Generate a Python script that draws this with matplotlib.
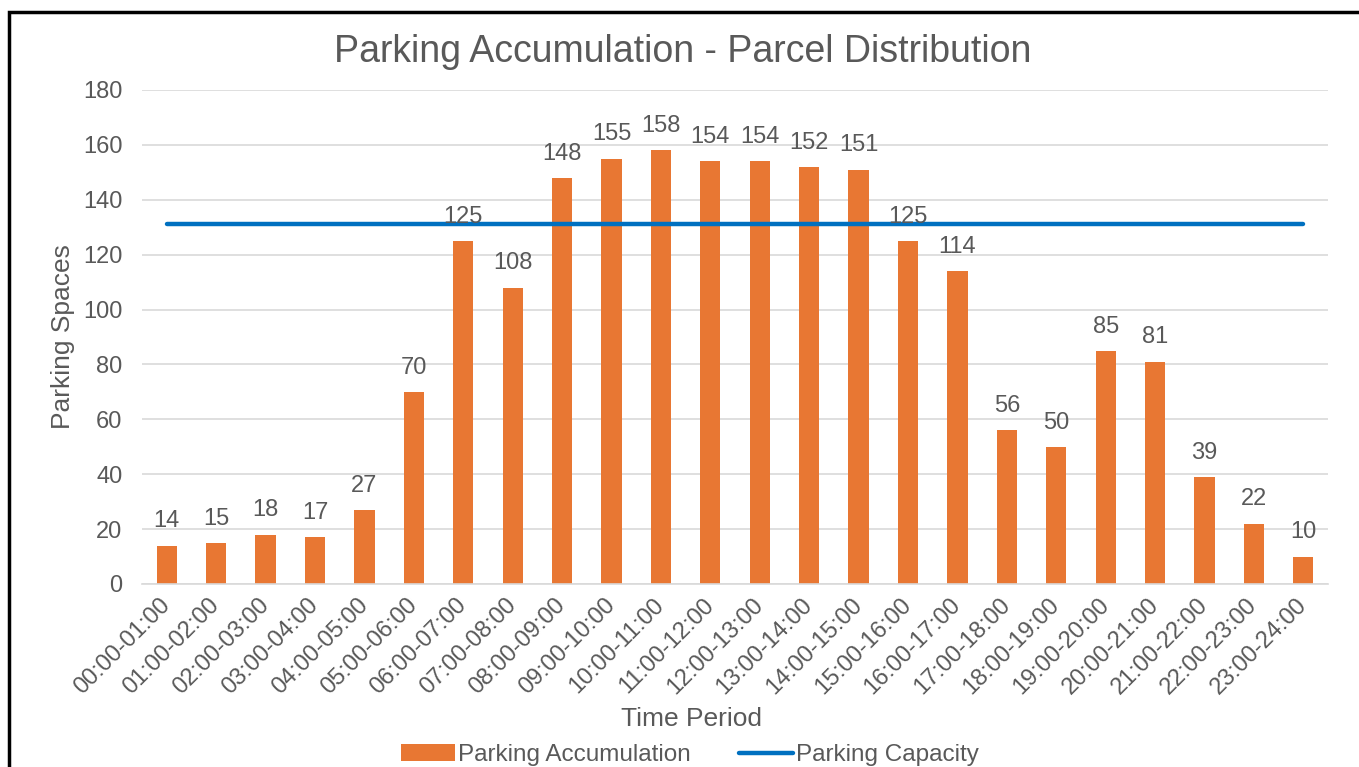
import matplotlib
matplotlib.use('Agg')
import matplotlib.pyplot as plt
from matplotlib.patches import Rectangle
import numpy as np

# data
periods = ['00:00-01:00', '01:00-02:00', '02:00-03:00', '03:00-04:00', '04:00-05:00',
           '05:00-06:00', '06:00-07:00', '07:00-08:00', '08:00-09:00', '09:00-10:00',
           '10:00-11:00', '11:00-12:00', '12:00-13:00', '13:00-14:00', '14:00-15:00',
           '15:00-16:00', '16:00-17:00', '17:00-18:00', '18:00-19:00', '19:00-20:00',
           '20:00-21:00', '21:00-22:00', '22:00-23:00', '23:00-24:00']
accumulation = [14, 15, 18, 17, 27, 70, 125, 108, 148, 155, 158, 154,
                154, 152, 151, 125, 114, 56, 50, 85, 81, 39, 22, 10]
capacity = 131

plt.rcParams['font.family'] = ['Liberation Sans', 'DejaVu Sans']
txt = '#595959'

fig = plt.figure(figsize=(13.59, 7.67), dpi=100)
ax = fig.add_axes([0.1045, 0.2386, 0.8727, 0.6441])

x = np.arange(len(periods))
bars = ax.bar(x, accumulation, width=0.41, color='#E87733', zorder=2)
line, = ax.plot([x[0], x[-1]], [capacity, capacity], color='#0070C0', lw=3.2,
                solid_capstyle='round', zorder=3)

for xi, v in zip(x, accumulation):
    ax.annotate(str(v), (xi, v), xytext=(0, 9.5), textcoords='offset points',
                ha='center', va='bottom', fontsize=17, color=txt)

ax.set_xlim(-0.5, len(periods) - 0.5)
ax.set_ylim(0, 180)
ax.set_yticks(range(0, 181, 20))
ax.yaxis.grid(True, color='#D9D9D9', lw=1.2, zorder=0)
ax.set_axisbelow(True)
for s in ['top', 'right', 'left']:
    ax.spines[s].set_visible(False)
ax.spines['bottom'].set_color('#D9D9D9')
ax.spines['bottom'].set_linewidth(1.2)
ax.tick_params(axis='both', length=0, labelsize=17, labelcolor=txt)
ax.tick_params(axis='y', pad=14)
ax.set_xticks(x)
ax.set_xticklabels(periods, rotation=45, ha='right', va='center', rotation_mode='anchor')
ax.tick_params(axis='x', pad=13)

ax.set_ylabel('Parking Spaces', fontsize=19, color=txt, labelpad=6)
fig.text(0.5085, 1 - 719 / 767, 'Time Period', ha='center', va='center', fontsize=19, color=txt)
fig.text(0.5025, 1 - 52 / 767, 'Parking Accumulation - Parcel Distribution',
         ha='center', va='center', fontsize=27, color=txt)

leg = fig.legend([bars, line], ['Parking Accumulation', 'Parking Capacity'],
                 loc='center', bbox_to_anchor=(690 / 1359, 1 - 755 / 767), ncol=2, frameon=False,
                 fontsize=17.5, handlelength=2.2, handletextpad=0.12, columnspacing=2.0,
                 borderpad=0)
for t in leg.get_texts():
    t.set_color(txt)

# outer frame (only left and top visible in the crop)
fig.patches.append(Rectangle((8.5 / 1359, -0.1), 1.2, 1 - 11.5 / 767 + 0.1, transform=fig.transFigure,
                             fill=False, edgecolor='black', lw=2.5))

fig.savefig('out.png', dpi=100)
